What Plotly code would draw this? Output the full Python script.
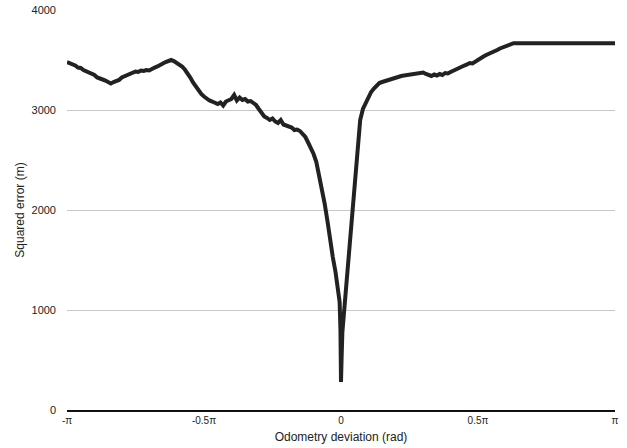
import math
import plotly.graph_objects as go

# x positions in units of pi (converted to radians below), squared error values
x_pi = [-1.00, -0.99, -0.98, -0.97, -0.96, -0.95, -0.94, -0.93, -0.92, -0.91,
        -0.90, -0.89, -0.88, -0.87, -0.86, -0.85, -0.84, -0.83, -0.82, -0.81,
        -0.80, -0.79, -0.78, -0.77, -0.76, -0.75, -0.74, -0.73, -0.72, -0.71,
        -0.70, -0.69, -0.68, -0.67, -0.66, -0.65, -0.64, -0.63, -0.62, -0.61,
        -0.60, -0.59, -0.58, -0.57, -0.56, -0.55, -0.54, -0.53, -0.52, -0.51,
        -0.50, -0.49, -0.48, -0.47, -0.46, -0.45, -0.44, -0.43, -0.42, -0.41,
        -0.40, -0.39, -0.38, -0.37, -0.36, -0.35, -0.34, -0.33, -0.32, -0.31,
        -0.30, -0.29, -0.28, -0.27, -0.26, -0.25, -0.24, -0.23, -0.22, -0.21,
        -0.20, -0.19, -0.18, -0.17, -0.16, -0.15, -0.14, -0.13, -0.12, -0.11,
        -0.10, -0.09, -0.08, -0.07, -0.06, -0.05, -0.04, -0.03, -0.02, -0.01,
        -0.005, -0.002, 0.000, 0.002, 0.005,
        0.01, 0.02, 0.03, 0.04, 0.05, 0.06, 0.07, 0.08, 0.09, 0.10,
        0.11, 0.12, 0.13, 0.14, 0.15, 0.16, 0.17, 0.18, 0.19, 0.20,
        0.21, 0.22, 0.23, 0.24, 0.25, 0.26, 0.27, 0.28, 0.29, 0.30,
        0.31, 0.32, 0.33, 0.34, 0.35, 0.36, 0.37, 0.38, 0.39, 0.40,
        0.41, 0.42, 0.43, 0.44, 0.45, 0.46, 0.47, 0.48, 0.49, 0.50,
        0.51, 0.52, 0.53, 0.54, 0.55, 0.56, 0.57, 0.58, 0.59, 0.60,
        0.61, 0.62, 0.63, 1.00]

error = [3480, 3470, 3455, 3445, 3425, 3420, 3400, 3390, 3375, 3360,
         3350, 3325, 3320, 3305, 3295, 3280, 3265, 3280, 3290, 3300,
         3325, 3335, 3350, 3365, 3375, 3385, 3380, 3395, 3390, 3400,
         3395, 3415, 3425, 3435, 3455, 3465, 3480, 3490, 3500, 3490,
         3475, 3455, 3435, 3405, 3370, 3325, 3275, 3235, 3195, 3160,
         3135, 3110, 3095, 3085, 3070, 3060, 3075, 3045, 3085, 3095,
         3110, 3150, 3095, 3125, 3100, 3110, 3085, 3090, 3070, 3050,
         3010, 2970, 2935, 2920, 2900, 2915, 2885, 2870, 2900, 2855,
         2845, 2835, 2825, 2800, 2805, 2790, 2765, 2730, 2675, 2620,
         2560, 2480, 2350, 2210, 2070, 1900, 1700, 1530, 1380, 1200,
         1080, 800, 280, 500, 780,
         950, 1270, 1620, 2000, 2250, 2580, 2900, 3010, 3070, 3130,
         3180, 3215, 3245, 3270, 3280, 3290, 3300, 3310, 3320, 3325,
         3330, 3340, 3345, 3350, 3345, 3360, 3355, 3370, 3365, 3375,
         3360, 3350, 3340, 3355, 3345, 3360, 3350, 3370, 3365, 3380,
         3395, 3410, 3420, 3440, 3445, 3455, 3470, 3465, 3485, 3505,
         3520, 3535, 3550, 3560, 3575, 3590, 3600, 3615, 3625, 3640,
         3650, 3660, 3668, 3668]

tick_vals_pi = [-1, -0.5, 0, 0.5, 1]
tick_text = ["-π", "-0.5π", "0", "0.5π", "π"]
y_ticks = [0, 1000, 2000, 3000, 4000]

x_rad = [v * math.pi for v in x_pi]

fig = go.Figure()
fig.add_trace(go.Scatter(x=x_rad, y=error, mode="lines",
                         line=dict(color="#222222", width=4),
                         showlegend=False, hoverinfo="skip"))

font = "Liberation Sans, Arial, sans-serif"
fig.update_layout(
    width=627, height=448,
    margin=dict(l=67, r=12, t=10, b=38),
    paper_bgcolor="white", plot_bgcolor="white",
    font=dict(family=font, size=11, color="#222222"),
    xaxis=dict(range=[-math.pi, math.pi], automargin=False,
               tickvals=[v * math.pi for v in tick_vals_pi], ticktext=tick_text,
               showgrid=False, zeroline=False, showline=True, linecolor="#111111",
               linewidth=1.5, ticks="", tickfont=dict(size=10),
               title=dict(text="Odometry deviation (rad)", font=dict(size=12), standoff=8)),
    yaxis=dict(range=[0, 4000], tickvals=y_ticks, automargin=False,
               showgrid=True, gridcolor="#c8c8c8", gridwidth=1,
               zeroline=False, showline=False, ticks="", ticklabelstandoff=10,
               tickfont=dict(size=11),
               title=dict(text="Squared error (m)", font=dict(size=12), standoff=4)),
)

fig.write_html("out.html")
